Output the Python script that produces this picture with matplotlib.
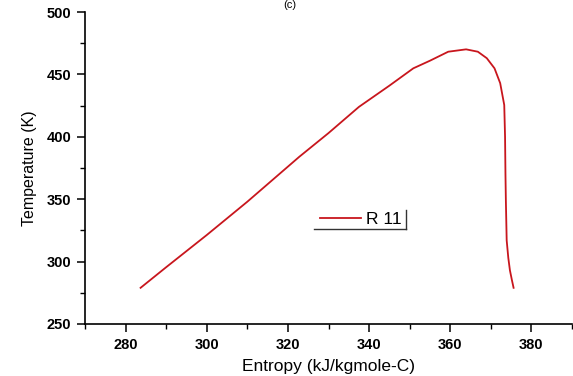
import matplotlib
matplotlib.use("Agg")
import matplotlib.pyplot as plt
from matplotlib.lines import Line2D
from matplotlib.ticker import MultipleLocator

# R 11 : temperature vs entropy
entropy = [283.7, 290.0, 300.0, 310.0, 322.8, 330.0, 337.5, 345.0, 350.9,
           355.0, 359.5, 363.9, 366.8, 369.0, 370.9, 372.3, 373.3, 373.5,
           373.6, 373.7, 373.9, 374.3, 374.7, 375.2, 375.6]
temperature = [279.0, 295.5, 321.3, 348.0, 384.0, 403.0, 424.0, 441.0, 454.9,
               461.0, 468.2, 470.1, 468.2, 463.0, 454.9, 443.0, 425.5, 400.0,
               370.0, 349.0, 317.0, 303.0, 293.0, 285.0, 279.0]
series_name = "R 11"

plt.rcParams['font.family'] = ['Liberation Sans', 'DejaVu Sans']

fig = plt.figure(figsize=(5.73, 3.76), dpi=100)
ax = fig.add_axes([0.1483, 0.1383, 0.85, 0.8297])

ax.plot(entropy, temperature, color='#c8161d', lw=1.3, label=series_name)

ax.set_xlim(270, 390)
ax.set_ylim(250, 500)
ax.xaxis.set_major_locator(MultipleLocator(20))
ax.xaxis.set_minor_locator(MultipleLocator(10))
ax.yaxis.set_major_locator(MultipleLocator(50))
ax.yaxis.set_minor_locator(MultipleLocator(25))

for s in ['top', 'right']:
    ax.spines[s].set_visible(False)
for s in ['left', 'bottom']:
    ax.spines[s].set_linewidth(1.2)

ax.tick_params(which='major', direction='out', length=6, width=1.1,
               labelsize=10.5, pad=4)
ax.tick_params(which='minor', direction='out', length=3.5, width=1.0)
for lbl in ax.get_xticklabels() + ax.get_yticklabels():
    lbl.set_fontweight('bold')

ax.set_xlabel("Entropy (kJ/kgmole-C)", fontsize=12.5, labelpad=5)
ax.set_ylabel("Temperature (K)", fontsize=11.5, labelpad=7)

leg = ax.legend(loc='center left', bbox_to_anchor=(0.4816, 0.3365),
                frameon=False, fontsize=12.5, handlelength=2.4,
                handletextpad=0.3, borderpad=0, borderaxespad=0)

# partial legend frame (bottom and right edges only)
ax.add_line(Line2D([0.471, 0.660], [0.306, 0.306], transform=ax.transAxes,
                   color='#333333', lw=1.0))
ax.add_line(Line2D([0.660, 0.660], [0.306, 0.365], transform=ax.transAxes,
                   color='#333333', lw=1.0))

fig.text(0.506, 0.999, "(c)", ha='center', va='top', fontsize=8)

fig.savefig("out.png", dpi=100)
